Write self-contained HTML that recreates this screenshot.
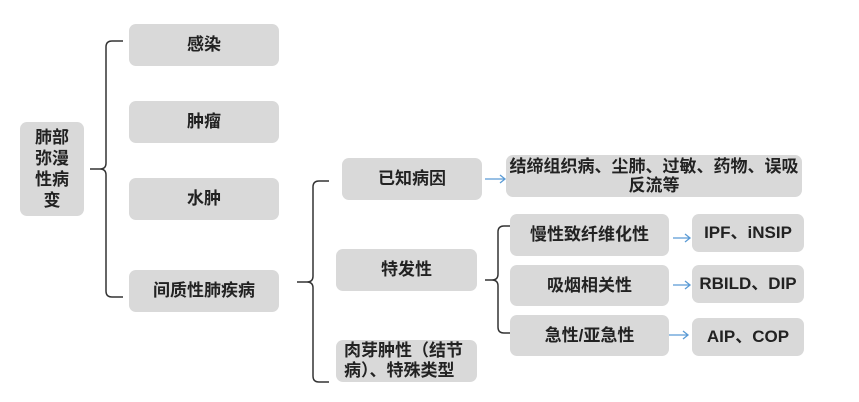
<!DOCTYPE html>
<html><head><meta charset="utf-8"><style>
body{margin:0;width:859px;height:402px;background:#fff;position:relative;overflow:hidden;font-family:"Liberation Sans","Noto Sans CJK SC",sans-serif;font-weight:bold;color:#222}
.b{position:absolute;background:#d9d9d9;border-radius:7px;display:flex;align-items:center;justify-content:center;text-align:center;font-size:17px;line-height:20px}
svg{position:absolute;left:0;top:0}
</style></head><body>
<svg width="859" height="402" fill="none">
<path d="M123 41 H112 Q106 41 106 47 V163 Q106 169 100 169 H90 M100 169 Q106 169 106 175 V291 Q106 297 112 297 H123" stroke="#333" stroke-width="1.5"/>
<path d="M329 181 H319 Q313 181 313 187 V276 Q313 282 307 282 H297 M307 282 Q313 282 313 288 V376 Q313 382 319 382 H329" stroke="#333" stroke-width="1.5"/>
<path d="M510 226 H504 Q498 226 498 232 V274 Q498 280 492 280 H485 M492 280 Q498 280 498 286 V327 Q498 333 504 333 H510" stroke="#333" stroke-width="1.5"/>
<g stroke="#5b9bd5" stroke-width="1.3">
<path d="M485 179 H505 M500 175 L505 179 L500 183"/>
<path d="M673 238 H690 M685 234 L690 238 L685 242"/>
<path d="M673 285 H690 M685 281 L690 285 L685 289"/>
<path d="M668 335 H688 M683 331 L688 335 L683 339"/>
</g>
</svg>
<div class="b" style="left:20px;top:122px;width:64px;height:94px;line-height:21px">肺部<br>弥漫<br>性病<br>变</div>
<div class="b" style="left:129px;top:24px;width:150px;height:42px">感染</div>
<div class="b" style="left:129px;top:101px;width:150px;height:42px">肿瘤</div>
<div class="b" style="left:129px;top:178px;width:150px;height:42px">水肿</div>
<div class="b" style="left:129px;top:270px;width:150px;height:42px">间质性肺疾病</div>
<div class="b" style="left:342px;top:158px;width:140px;height:42px">已知病因</div>
<div class="b" style="left:506px;top:155px;width:296px;height:42px;line-height:19px">结缔组织病、尘肺、过敏、药物、误吸<br>反流等</div>
<div class="b" style="left:336px;top:249px;width:141px;height:42px">特发性</div>
<div class="b" style="left:336px;top:340px;width:141px;height:42px;line-height:20px;justify-content:flex-start;text-align:left;padding-left:8px;box-sizing:border-box">肉芽肿性（结节<br>病）、特殊类型</div>
<div class="b" style="left:510px;top:214px;width:159px;height:42px">慢性致纤维化性</div>
<div class="b" style="left:510px;top:265px;width:159px;height:41px">吸烟相关性</div>
<div class="b" style="left:510px;top:315px;width:159px;height:41px">急性/亚急性</div>
<div class="b" style="left:692px;top:214px;width:112px;height:38px">IPF、iNSIP</div>
<div class="b" style="left:692px;top:265px;width:112px;height:38px">RBILD、DIP</div>
<div class="b" style="left:692px;top:318px;width:112px;height:38px">AIP、COP</div>
</body></html>
